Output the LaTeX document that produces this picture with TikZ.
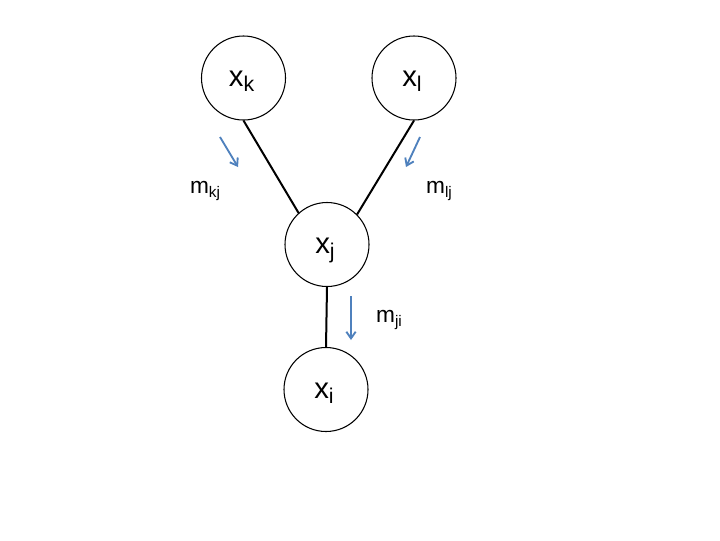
\documentclass[tikz,border=0pt]{standalone}
\usepackage{fontspec}
\setmainfont{Liberation Sans}
\usetikzlibrary{arrows.meta}
\definecolor{msgblue}{RGB}{79,129,189}
\newcommand{\var}[1]{{\fontsize{22}{22}\selectfont x}\raisebox{-0.38em}{\fontsize{16}{16}\selectfont #1}}
\newcommand{\msg}[1]{{\fontsize{17}{17}\selectfont m}\raisebox{-0.32em}{\fontsize{11.5}{11.5}\selectfont #1}}
\begin{document}
\begin{tikzpicture}[x=0.75pt,y=-0.75pt,
  varnode/.style={circle,draw=black,line width=0.8pt,minimum size=63pt,inner sep=0pt,fill=white},
  varlabel/.style={inner sep=0pt,anchor=base},
  edge/.style={draw=black,line width=1.5pt},
  msgarrow/.style={draw=msgblue,line width=1.4pt,-{Straight Barb[length=5pt,width=7pt]}},
  msglabel/.style={inner sep=0pt}]
\useasboundingbox (0,0) rectangle (720,540);
% variable nodes
\node[varnode] (xk) at (243.5,78) {};
\node[varnode] (xl) at (414,78) {};
\node[varnode] (xj) at (327,244.5) {};
\node[varnode] (xi) at (326,389.5) {};
% variable names, set on a common baseline inside each circle
\node[varlabel] (tk) at ([xshift=-1.5pt,yshift=-6.5pt]xk.center) {\var{k}};
\node[varlabel] (tl) at ([xshift=-1.5pt,yshift=-6.5pt]xl.center) {\var{l}};
\node[varlabel] (tj) at ([xshift=-1.5pt,yshift=-6.5pt]xj.center) {\var{j}};
\node[varlabel] (ti) at ([xshift=-1.5pt,yshift=-6.5pt]xi.center) {\var{i}};
% edges of the tree
\draw[edge] (xk.south) -- (xj.132);
\draw[edge] (xl.south) -- (xj.45);
\draw[edge] (xj.south) -- (xi.north);
% message directions
\coordinate (a1s) at (220,137); \coordinate (a1e) at (238,167);
\coordinate (a2s) at (420,137); \coordinate (a2e) at (406,167);
\coordinate (a3s) at (351,296); \coordinate (a3e) at (351,340);
\draw[msgarrow] (a1s) -- (a1e);
\draw[msgarrow] (a2s) -- (a2e);
\draw[msgarrow] (a3s) -- (a3e);
% message labels
\node[msglabel] (mkj) at (205,191) {\msg{kj}};
\node[msglabel] (mlj) at (439,191) {\msg{lj}};
\node[msglabel] (mji) at (389,320) {\msg{ji}};
\end{tikzpicture}
\end{document}
